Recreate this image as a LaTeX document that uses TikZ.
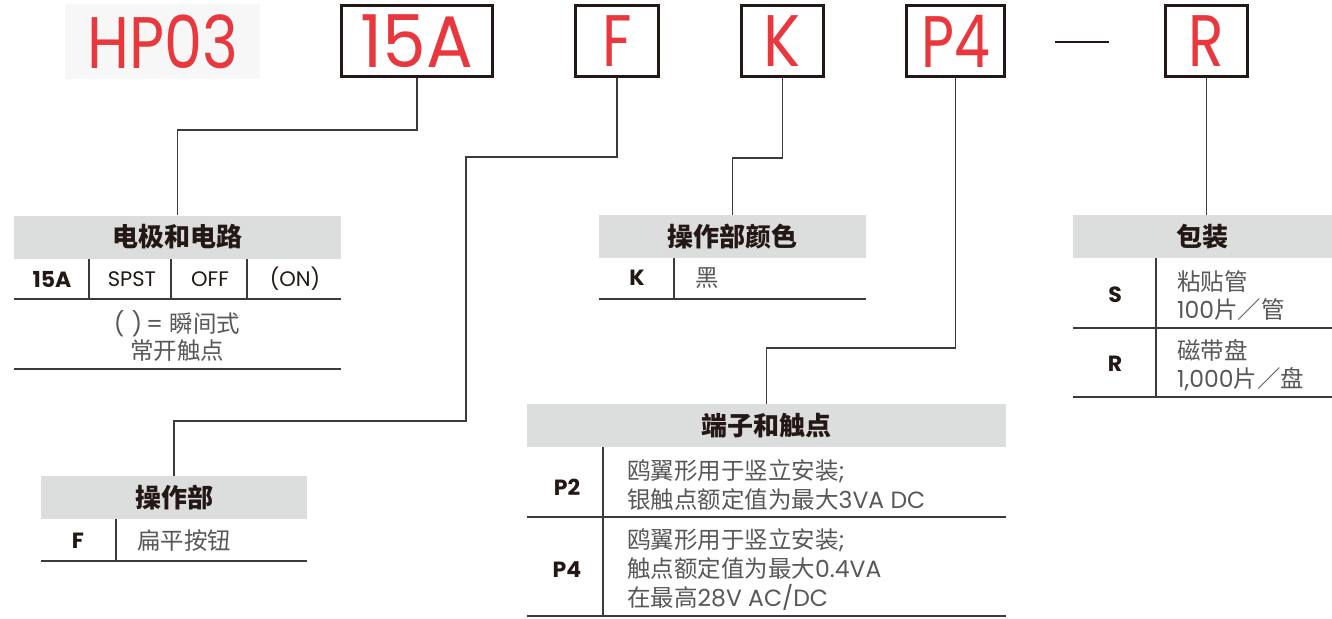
\documentclass[tikz,border=0pt]{standalone}
\usepackage{fontspec}
\setmainfont{Poppins}
\newfontfamily\cjk{Noto Sans CJK SC}
\newcommand{\zh}[1]{{\cjk #1}}
\definecolor{codered}{HTML}{E8383D}
\definecolor{ink}{HTML}{231815}
\definecolor{rulegray}{HTML}{3E3A39}
\definecolor{hdrgray}{HTML}{DCDDDD}
\definecolor{txtgray}{HTML}{595757}
\definecolor{tagbg}{HTML}{F7F7F7}

\begin{document}
\begin{tikzpicture}[x=1pt, y=-1pt,
    codebox/.style={draw=ink, line width=2.8pt, minimum height=71pt, inner sep=0pt,
      text=codered, font=\fontsize{73}{73}\selectfont},
    hdr/.style={fill=hdrgray, minimum height=43pt, inner sep=0pt, text=ink,
      font=\cjk\bfseries\fontsize{26}{30}\selectfont},
    key/.style={text=ink, inner sep=0pt, font=\bfseries\fontsize{22}{26}\selectfont},
    opt/.style={text=ink, inner sep=0pt, font=\fontsize{21}{25}\selectfont},
    cell/.style={anchor=west, align=left, inner sep=0pt, text=txtgray,
      font=\fontsize{23.5}{29}\selectfont},
    leader/.style={draw=rulegray, line width=1.2pt},
    tablerule/.style={draw=rulegray, line width=1.3pt}]
        \fill[white] (0,0) rectangle (1332,618);
        \useasboundingbox (0,0) rectangle (1332,618);

        % Part number
        \node[fill=tagbg, minimum width=195pt, minimum height=75pt, inner sep=0pt,
          text=codered, font=\fontsize{73}{73}\selectfont] (bHP) at (162.5,41.5) {\scalebox{.83}[1]{HP03}};
        \node[codebox, minimum width=151pt] (b15A) at (417,41) {\scalebox{.95}[1]{15A}};
        \node[codebox, minimum width=83pt] (bF) at (617,41) {\scalebox{.8}[1]{F}};
        \node[codebox, minimum width=82pt] (bK) at (782.5,41) {\scalebox{.85}[1]{K}};
        \node[codebox, minimum width=98pt] (bP4) at (955.5,41) {\scalebox{.78}[1]{P4}};
        \draw[ink, line width=2.8pt] (1055,42) -- (1109,42);
        \node[codebox, minimum width=82pt] (bR) at (1206.5,41) {\scalebox{.8}[1]{R}};

        % Contacts and circuit
        \node[hdr, minimum width=327pt] (h15A) at (177.5,237) {电极和电路};
        \draw[tablerule] (14,299) -- (341,299);
        \draw[tablerule] (89,259) -- (89,299);
        \draw[tablerule] (171,259) -- (171,299);
        \draw[tablerule] (247,259) -- (247,299);
        \draw[tablerule] (14,369) -- (341,369);
        \node[key] (k15A) at (52,279) {15A};
        \node[opt] (oSPST) at (132,279) {SPST};
        \node[opt] (oOFF) at (210,279) {OFF};
        \node[opt] (oON) at (295,279) {(ON)};
        \node[cell, anchor=center, align=center, font=\fontsize{23.5}{27}\selectfont] (n15A) at (177,336)
          {(\hspace{7pt})\,= \zh{瞬间式}\\\zh{常开触点}};

        % Actuator
        \node[hdr, minimum width=266pt] (hF) at (174,497.5) {操作部};
        \draw[tablerule] (41,561) -- (307,561);
        \draw[tablerule] (116,519) -- (116,561);
        \node[key] (kF) at (78,541) {F};
        \node[cell] (cF) at (137,541) {\zh{扁平按钮}};

        % Actuator colour
        \node[hdr, minimum width=267pt] (hK) at (732.5,236.5) {操作部颜色};
        \draw[tablerule] (599,299) -- (866,299);
        \draw[tablerule] (674,258) -- (674,299);
        \node[key] (kK) at (637,278) {K};
        \node[cell] (cK) at (695,278) {\zh{黑}};

        % Terminals and contacts
        \node[hdr, minimum width=479pt] (hP) at (766.5,425.5) {端子和触点};
        \draw[tablerule] (527,517) -- (1006,517);
        \draw[tablerule] (527,616) -- (1006,616);
        \draw[tablerule] (603,447) -- (603,616);
        \node[key] (kP2) at (567,487) {P2};
        \node[cell] (cP2) at (627,485)
          {\zh{鸥翼形用于竖立安装};\\\zh{银触点额定值为最大}3VA DC};
        \node[key] (kP4) at (567,570) {P4};
        \node[cell] (cP4) at (627,570)
          {\zh{鸥翼形用于竖立安装};\\\zh{触点额定值为最大}0.4VA\\\zh{在最高}28V AC/DC};

        % Packaging
        \node[hdr, minimum width=259pt] (hR) at (1202.5,236.5) {包装};
        \draw[tablerule] (1073,328) -- (1332,328);
        \draw[tablerule] (1073,397) -- (1332,397);
        \draw[tablerule] (1156,258) -- (1156,397);
        \node[key] (kS) at (1115,295) {S};
        \node[cell, font=\fontsize{23.5}{28}\selectfont] (cS) at (1177,296) {\zh{粘贴管}\\100\zh{片／管}};
        \node[key] (kR) at (1115,364) {R};
        \node[cell, font=\fontsize{23.5}{28}\selectfont] (cR) at (1177,365) {\zh{磁带盘}\\1,000\zh{片／盘}};

        % Leaders
        \coordinate (fturn) at (466,421);
        \draw[leader] (b15A.south) -- ++(0,52) -| (h15A.north);
        \draw[leader] (bF.south) -- ++(0,79) -| (fturn) -| (hF.north);
        \draw[leader] (bK.south) -- ++(0,80) -| (hK.north);
        \draw[leader] (bP4.south) -- ++(0,270) -| (hP.north);
        \draw[leader] (bR.south) -- (hR.north -| bR.south);
    \end{tikzpicture}
\end{document}
